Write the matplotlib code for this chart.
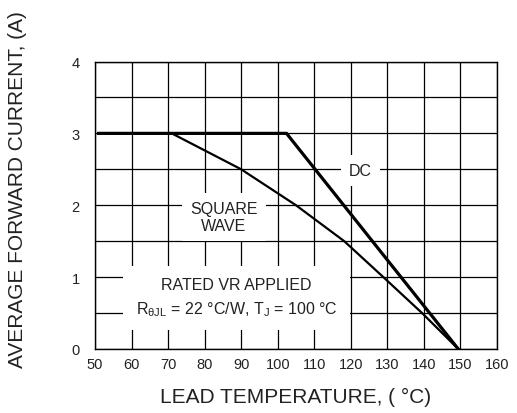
import matplotlib
matplotlib.use("Agg")
import matplotlib.pyplot as plt
from matplotlib.ticker import MultipleLocator

plt.rcParams["font.family"] = ["Liberation Sans", "DejaVu Sans"]

# derating curves
dc_temp = [51, 102.4, 149.4]
dc_current = [3.0, 3.0, 0.0]

sq_temp = [71, 90, 105, 118.2, 128.9, 139.5, 149.4]
sq_current = [3.0, 2.5, 2.0, 1.5, 1.0, 0.5, 0.0]

x_ticks = list(range(50, 161, 10))
y_ticks = [0, 1, 2, 3, 4]

TXT = "#222222"


def main():
    fig = plt.figure(figsize=(5.17, 4.14), dpi=100)
    ax = fig.add_axes([95 / 517, 64 / 414, 402 / 517, 287.5 / 414])

    ax.set_xlim(50, 160)
    ax.set_ylim(0, 4)
    ax.set_xticks(x_ticks)
    ax.set_yticks(y_ticks)
    ax.yaxis.set_minor_locator(MultipleLocator(0.5))
    ax.grid(True, which="both", color="black", linewidth=0.9, zorder=1)
    ax.set_axisbelow(True)
    ax.tick_params(which="both", length=0)
    ax.tick_params(axis="x", pad=6, labelsize=10.5, labelcolor=TXT)
    ax.tick_params(axis="y", pad=11, labelsize=10.5, labelcolor=TXT)
    for s in ax.spines.values():
        s.set_linewidth(1.0)

    ax.plot(dc_temp, dc_current, color="black", lw=2.3, zorder=5,
            solid_joinstyle="miter")
    ax.plot(sq_temp, sq_current, color="black", lw=1.6, zorder=5)

    box = dict(boxstyle="square,pad=0.5", facecolor="white", edgecolor="none")
    ax.text(122.7, 2.48, "DC", ha="center", va="center", fontsize=11.5,
            color=TXT, bbox=box, zorder=3)
    ax.text(85.3, 1.84, "SQUARE\nWAVE", ha="center", va="center",
            fontsize=11.5, color=TXT, linespacing=1.2, bbox=box, zorder=3)
    box2 = dict(boxstyle="square,pad=0.8", facecolor="white", edgecolor="none")
    ax.text(88.7, 0.72,
            "RATED VR APPLIED\n"
            r"R$_\mathregular{θJL}$ = 22 °C/W, T$_\mathregular{J}$ = 100 °C",
            ha="center", va="center", ma="center", fontsize=11.5,
            color=TXT, linespacing=1.5, bbox=box2, zorder=3)

    fig.text(296 / 517, 1 - 397 / 414, "LEAD TEMPERATURE, ( °C)",
             ha="center", va="center", fontsize=15, color=TXT)
    fig.text(17.5 / 517, 1 - 190 / 414, "AVERAGE FORWARD CURRENT, (A)",
             ha="center", va="center", rotation=90, fontsize=15, color=TXT)

    fig.savefig("out.png", dpi=100)


if __name__ == "__main__":
    main()
